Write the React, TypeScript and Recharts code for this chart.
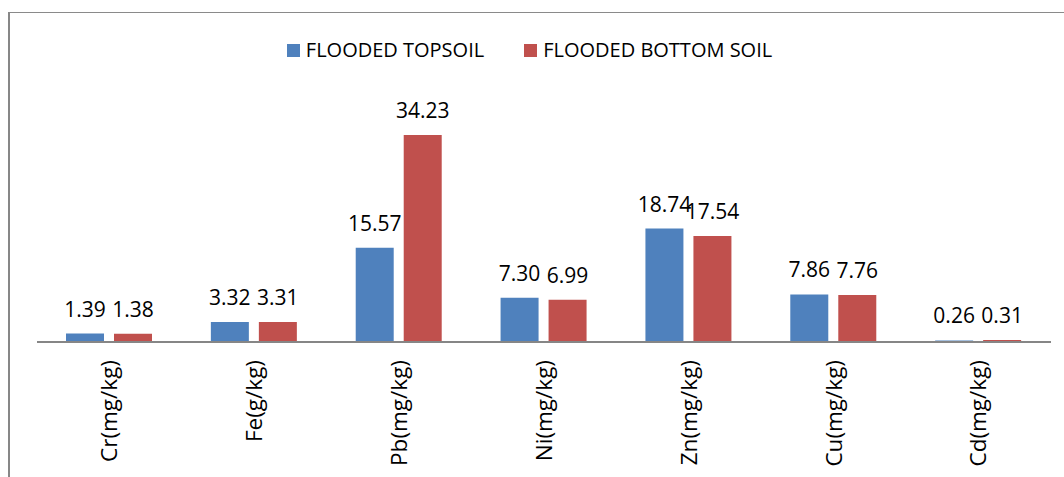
import React from "react";
import { BarChart, Bar, XAxis, YAxis, LabelList } from "recharts";

// Heavy-metal concentrations in flooded soils
const elements = ["Cr(mg/kg)", "Fe(g/kg)", "Pb(mg/kg)", "Ni(mg/kg)", "Zn(mg/kg)", "Cu(mg/kg)", "Cd(mg/kg)"];
const topsoil = [1.39, 3.32, 15.57, 7.3, 18.74, 7.86, 0.26];
const bottomSoil = [1.38, 3.31, 34.23, 6.99, 17.54, 7.76, 0.31];
const seriesNames = ["FLOODED TOPSOIL", "FLOODED BOTTOM SOIL"];
const seriesColors = ["#4F81BD", "#C0504D"];

const data = elements.map((name, i) => ({
  name,
  top: topsoil[i],
  bottom: bottomSoil[i],
}));

const FONT = "'Open Sans', sans-serif";

const CategoryTick = (props: any) => {
  const { x, y, payload } = props;
  return (
    <g transform={`translate(${x},${y})`}>
      <text
        x={0}
        y={0}
        dy="0.35em"
        textAnchor="end"
        transform="rotate(-90)"
        fontSize={22.5}
        fill="#000"
        fontFamily={FONT}
      >
        {payload.value}
      </text>
    </g>
  );
};

const LegendRow = () => (
  <div
    style={{
      display: "flex",
      justifyContent: "center",
      alignItems: "center",
      height: 20,
      lineHeight: "20px",
      paddingRight: 5,
      fontFamily: FONT,
      fontSize: 20,
      color: "#000",
    }}
  >
    {seriesNames.map((n, i) => (
      <div key={n} style={{ display: "flex", alignItems: "center", marginLeft: i === 0 ? 0 : 40 }}>
        <span style={{ width: 13, height: 13, background: seriesColors[i], marginRight: 6 }} />
        <span style={{ whiteSpace: "nowrap" }}>{n}</span>
      </div>
    ))}
  </div>
);

const labelStyle = { fontFamily: FONT, fontSize: 21, fill: "#000" };
const fmt = (v: any) => Number(v).toFixed(2);

export default function App() {
  return (
    <div style={{ position: "absolute", left: 0, top: 0, width: 1064, height: 477, overflow: "hidden", background: "#fff" }}>
      <div
        style={{
          position: "absolute",
          left: 8,
          top: 12,
          width: 1100,
          height: 500,
          borderLeft: "2px solid #878787",
          borderTop: "1.5px solid #8a8a8a",
        }}
      />
      <div style={{ position: "absolute", left: 0, top: 40, width: 1064 }}>
        <LegendRow />
      </div>
      <div style={{ position: "absolute", left: 0, top: 0 }}>
        <BarChart
          width={1064}
          height={477}
          data={data}
          margin={{ top: 100, right: 13, bottom: 0, left: 37 }}
          barSize={38}
          barGap={10}
        >
          <YAxis hide domain={[0, 40]} />
          <XAxis
            dataKey="name"
            height={135}
            interval={0}
            tickLine={false}
            tickSize={0}
            tickMargin={18}
            axisLine={{ stroke: "#868686", strokeWidth: 2 }}
            tick={<CategoryTick />}
          />
          <Bar dataKey="top" fill={seriesColors[0]} isAnimationActive={false}>
            <LabelList dataKey="top" position="top" offset={17} formatter={fmt} style={labelStyle} />
          </Bar>
          <Bar dataKey="bottom" fill={seriesColors[1]} isAnimationActive={false}>
            <LabelList dataKey="bottom" position="top" offset={17} formatter={fmt} style={labelStyle} />
          </Bar>
        </BarChart>
      </div>
    </div>
  );
}
